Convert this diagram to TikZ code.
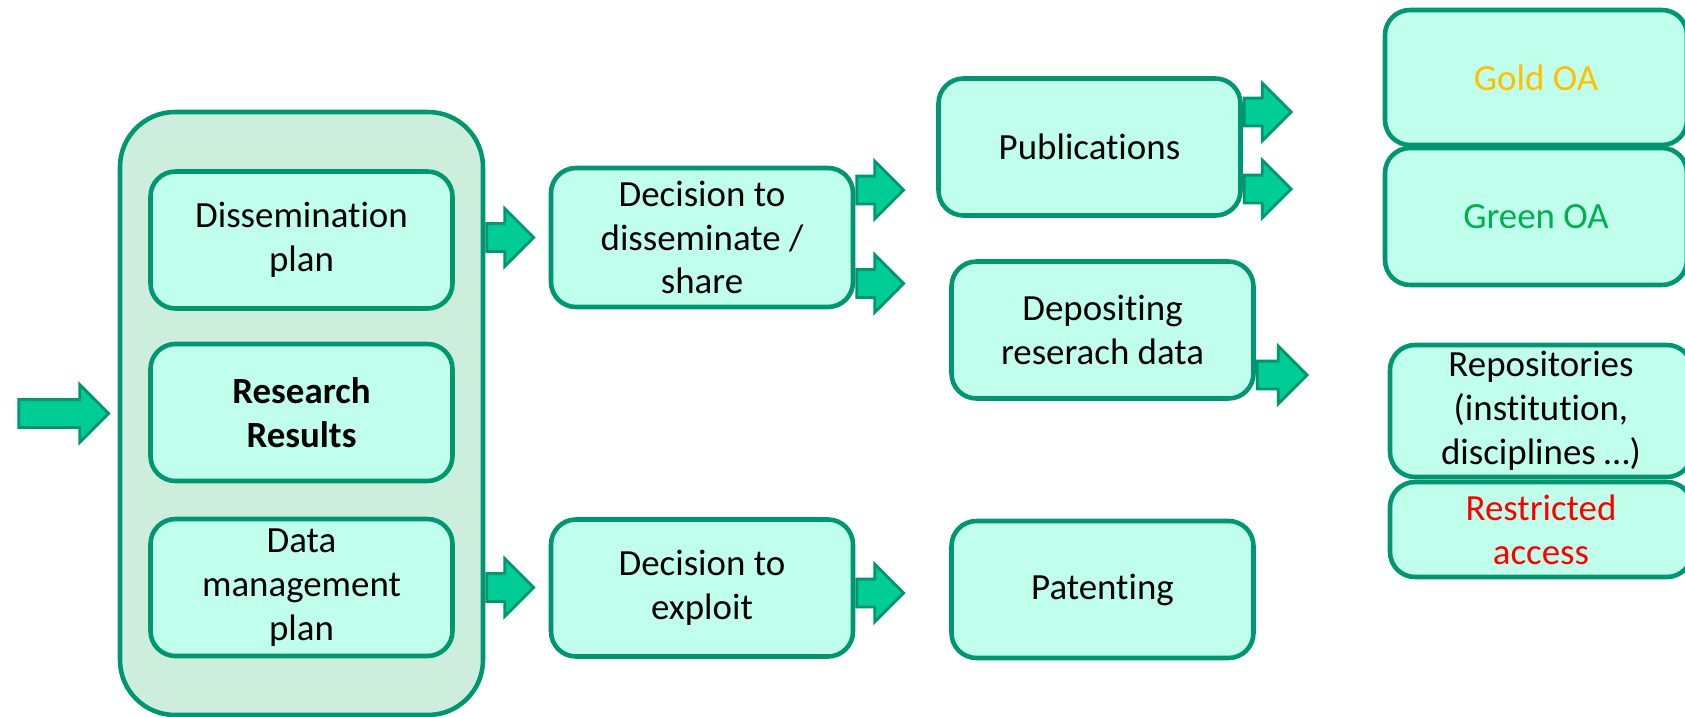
\documentclass[tikz,border=0pt]{standalone}
\usepackage{fontspec}
\setmainfont{Carlito}[Ligatures=NoCommon]
\usetikzlibrary{shapes.arrows}

\definecolor{boxline}{RGB}{0,150,112}
\definecolor{boxfill}{RGB}{192,255,236}
\definecolor{outerfill}{RGB}{205,237,221}
\definecolor{arrowfill}{RGB}{0,204,150}
\definecolor{goldoa}{RGB}{255,192,0}
\definecolor{greenoa}{RGB}{0,176,80}

\tikzstyle{box}=[shape=rectangle,rounded corners=0.5cm,draw=boxline,fill=boxfill,line width=2.6pt,minimum width=6.04cm,minimum height=2.74cm,align=center,font=\fontsize{21}{25}\selectfont]
\tikzstyle{outerbox}=[box,fill=outerfill,rounded corners=1.1cm,minimum width=7.26cm,minimum height=12.06cm]
\tikzstyle{fatarrow}=[shape=single arrow,draw=boxline,fill=arrowfill,line width=1.6pt,inner xsep=0pt,inner ysep=0.25cm,minimum width=0pt,single arrow head extend=0.3cm,minimum height=0.94cm]

\begin{document}
\begin{tikzpicture}[]
\useasboundingbox (0,0) rectangle (33.7,-14.34);
% results column
\node[outerbox] (results) at (6.03,-8.27) {};
\node[box] (displan) at (6.03,-4.8) {Dissemination\\plan};
\node[box] (resres) at (6.03,-8.25) {\textbf{Research}\\\textbf{Results}};
\node[box] (dmplan) at (6.03,-11.75) {Data\\management\\plan};
\node[fatarrow,minimum height=1.8cm,anchor=tip] (inarrow) at ([xshift=-0.14cm]results.west) {};
% decisions
\node[box,minimum height=2.78cm] (decshare) at (14.04,-4.75) {Decision to\\disseminate /\\share};
\node[box] (decexploit) at (14.04,-11.76) {Decision to\\exploit};
\node[fatarrow,anchor=tail] (toshare) at (decshare.west -| results.east) {};
\node[fatarrow,anchor=tail] (toexploit) at (dmplan.east -| results.east) {};
% outputs
\node[box] (pubs) at (21.79,-2.94) {Publications};
\node[box] (deposit) at (22.05,-6.6) {Depositing\\reserach data};
\node[box] (patent) at (22.05,-11.79) {Patenting};
\node[fatarrow,anchor=tail] (topubs) at ([yshift=0.95cm]decshare.east) {};
\node[fatarrow,anchor=tail] (todeposit) at ([yshift=-0.92cm]decshare.east) {};
\node[fatarrow,anchor=tail] (topatent) at ([yshift=-0.1cm]decexploit.east) {};
% access routes
\node[box,minimum height=2.7cm] (gold) at (30.72,-1.55) {\textcolor{goldoa}{Gold OA}};
\node[box] (green) at (30.72,-4.33) {\textcolor{greenoa}{Green OA}};
\node[box,minimum height=2.64cm] (repos) at (30.82,-8.22) {Repositories\\(institution,\\disciplines …)};
\node[box,minimum height=1.9cm] (restrict) at (30.82,-10.59) {\textcolor{red}{Restricted}\\\textcolor{red}{access}};
\node[fatarrow,anchor=tail] (togold) at ([yshift=0.7cm]pubs.east) {};
\node[fatarrow,anchor=tail] (togreen) at ([yshift=-0.84cm]pubs.east) {};
\node[fatarrow,anchor=tail,minimum height=1.0cm] (torepos) at ([yshift=-0.9cm]deposit.east) {};
\end{tikzpicture}
\end{document}
